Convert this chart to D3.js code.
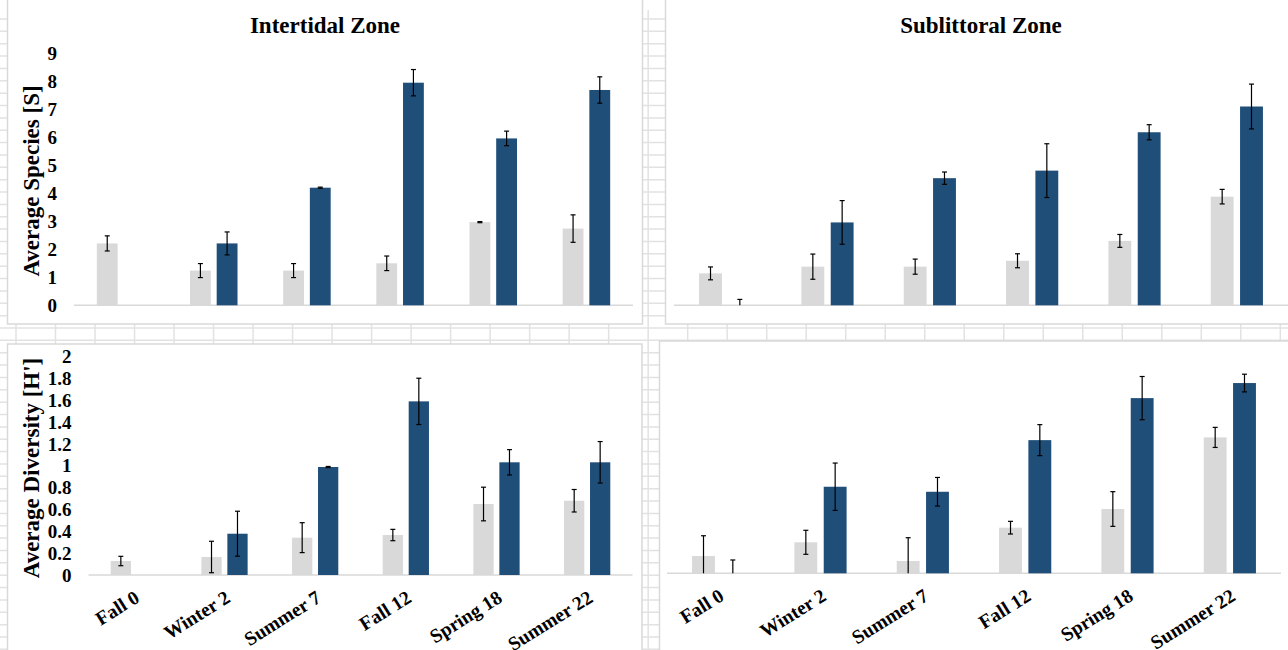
<!DOCTYPE html>
<html>
<head>
<meta charset="utf-8">
<script src="https://cdn.jsdelivr.net/npm/d3@7"></script>
<style>
  html, body { margin: 0; padding: 0; background: #fff; }
  svg { display: block; }
  text { font-family: "Liberation Serif", "Times New Roman", serif; font-weight: bold; fill: #000; }
</style>
</head>
<body>
<div id="chart"></div>
<script>
// categories shared by all four panels
const categories = ["Fall 0", "Winter 2", "Summer 7", "Fall 12", "Spring 18", "Summer 22"];

// Intertidal zone - average species [S]
const interSpeciesLight = [2.21, 1.24, 1.24, 1.5, 2.97, 2.74];
const interSpeciesLightErr = [0.27, 0.25, 0.25, 0.26, 0.02, 0.49];
const interSpeciesDark = [null, 2.21, 4.2, 7.95, 5.96, 7.69];
const interSpeciesDarkErr = [null, 0.41, 0.02, 0.47, 0.26, 0.47];

// Sublittoral zone - average species [S]
const subSpeciesLight = [1.14, 1.38, 1.38, 1.59, 2.3, 3.88];
const subSpeciesLightErr = [0.23, 0.45, 0.27, 0.25, 0.23, 0.26];
const subSpeciesDark = [0, 2.96, 4.54, 4.81, 6.18, 7.1];
const subSpeciesDarkErr = [0.21, 0.78, 0.22, 0.96, 0.27, 0.8];

// Intertidal zone - average diversity [H']
const interDivLight = [0.128, 0.165, 0.342, 0.366, 0.65, 0.68];
const interDivLightErr = [0.043, 0.144, 0.137, 0.052, 0.154, 0.103];
const interDivDark = [null, 0.378, 0.989, 1.59, 1.032, 1.032];
const interDivDarkErr = [null, 0.206, 0.005, 0.212, 0.116, 0.19];

// Sublittoral zone - average diversity [H']
const subDivLight = [0.158, 0.284, 0.113, 0.418, 0.589, 1.245];
const subDivLightErr = [0.186, 0.11, 0.213, 0.058, 0.159, 0.092];
const subDivDark = [0, 0.793, 0.747, 1.22, 1.605, 1.743];
const subDivDarkErr = [0.122, 0.217, 0.131, 0.142, 0.198, 0.081];

// tick labels
const speciesTicks = [0, 1, 2, 3, 4, 5, 6, 7, 8, 9];
const diversityTicks = [0, 0.2, 0.4, 0.6, 0.8, 1, 1.2, 1.4, 1.6, 1.8, 2];

const W = 1288, H = 650;
const LIGHT = "#d9d9d9", DARK = "#1f4e79", GRID = "#e2e2e2";

const svg = d3.select("#chart").append("svg")
  .attr("width", W)
  .attr("height", H);

// spreadsheet cell grid behind the charts
const gridG = svg.append("g");
d3.range(0, 33).forEach((k) => {
  const x = 16 + 39.51 * k;
  gridG.append("line").attr("x1", x).attr("x2", x).attr("y1", 10).attr("y2", H)
    .attr("stroke", GRID).attr("stroke-width", 1.5);
});
d3.range(0, 52).forEach((k) => {
  const y = 19 + 12.36 * k;
  gridG.append("line").attr("x1", 0).attr("x2", W).attr("y1", y).attr("y2", y)
    .attr("stroke", GRID).attr("stroke-width", 1.5);
});

function drawPanel(cfg) {
  // chart area (white box over the grid)
  svg.append("rect")
    .attr("x", cfg.box[0]).attr("y", cfg.box[1])
    .attr("width", cfg.box[2]).attr("height", cfg.box[3])
    .attr("fill", "#fff").attr("stroke", "#d9d9d9").attr("stroke-width", 1.5);

  const g = svg.append("g");

  const x0 = d3.scaleBand()
    .domain(categories)
    .range(cfg.xRange)
    .paddingInner(0.49)
    .paddingOuter(0.245);

  const x1 = d3.scaleBand()
    .domain(["light", "dark"])
    .range([0, x0.bandwidth()])
    .paddingInner(0.22);

  const y = d3.scaleLinear()
    .domain(cfg.yDomain)
    .range(cfg.yRange);

  // axis line
  g.append("line")
    .attr("x1", cfg.xRange[0]).attr("x2", cfg.xRange[1])
    .attr("y1", y(0)).attr("y2", y(0))
    .attr("stroke", "#d9d9d9").attr("stroke-width", 1.5);

  const series = [
    { key: "light", vals: cfg.light, errs: cfg.lightErr, color: LIGHT },
    { key: "dark", vals: cfg.dark, errs: cfg.darkErr, color: DARK }
  ];

  series.forEach((s) => {
    categories.forEach((c, i) => {
      const v = s.vals[i];
      if (v === null) return;
      const bx = x0(c) + x1(s.key);
      const bw = x1.bandwidth();
      if (v > 0) {
        g.append("rect")
          .attr("x", bx).attr("y", y(v))
          .attr("width", bw).attr("height", y(0) - y(v))
          .attr("fill", s.color);
      }
      // error bar, cut at zero like the original
      const e = s.errs[i];
      if (e === null) return;
      const cx = bx + bw / 2;
      const lo = Math.max(0, v - e), hi = v + e;
      g.append("line")
        .attr("x1", cx).attr("x2", cx).attr("y1", y(lo)).attr("y2", y(hi))
        .attr("stroke", "#000").attr("stroke-width", 1.2);
      g.append("line")
        .attr("x1", cx - 2.5).attr("x2", cx + 2.5).attr("y1", y(hi)).attr("y2", y(hi))
        .attr("stroke", "#000").attr("stroke-width", 1.2);
      if (v - e > 0) {
        g.append("line")
          .attr("x1", cx - 2.5).attr("x2", cx + 2.5).attr("y1", y(lo)).attr("y2", y(lo))
          .attr("stroke", "#000").attr("stroke-width", 1.2);
      }
    });
  });

  // y tick labels
  if (cfg.ticks) {
    g.selectAll(".ytick")
      .data(cfg.ticks)
      .enter().append("text")
      .attr("x", cfg.tickX)
      .attr("y", (d) => y(d))
      .attr("dy", "0.35em")
      .attr("text-anchor", "end")
      .attr("font-size", 19)
      .text((d) => String(+d.toFixed(1)));
  }

  // rotated category labels, end tucked under the group
  if (cfg.xLabels) {
    g.selectAll(".xlab")
      .data(categories)
      .enter().append("text")
      .attr("text-anchor", "end")
      .attr("font-size", 19.5)
      .attr("transform", (d) => `translate(${x0(d) + x0.bandwidth() / 2 + 7},${y(0) + 26}) rotate(-32)`)
      .text((d) => d);
  }

  if (cfg.title) {
    g.append("text")
      .attr("x", cfg.title[1]).attr("y", 33)
      .attr("text-anchor", "middle")
      .attr("font-size", 23)
      .text(cfg.title[0]);
  }

  if (cfg.yTitle) {
    g.append("text")
      .attr("text-anchor", "middle")
      .attr("font-size", 23)
      .attr("transform", `translate(39,${cfg.yTitle[1]}) rotate(-90)`)
      .text(cfg.yTitle[0]);
  }
}

// top left
drawPanel({
  box: [7.5, -5, 635, 329],
  xRange: [74, 633],
  yDomain: [0, 9], yRange: [305.3, 53.3],
  light: interSpeciesLight, lightErr: interSpeciesLightErr,
  dark: interSpeciesDark, darkErr: interSpeciesDarkErr,
  ticks: speciesTicks, tickX: 57,
  title: ["Intertidal Zone", 325],
  yTitle: ["Average Species [S]", 181]
});

// top right
drawPanel({
  box: [665.5, -5, 640, 329],
  xRange: [674, 1288],
  yDomain: [0, 9], yRange: [305.3, 53.3],
  light: subSpeciesLight, lightErr: subSpeciesLightErr,
  dark: subSpeciesDark, darkErr: subSpeciesDarkErr,
  title: ["Sublittoral Zone", 981]
});

// bottom left
drawPanel({
  box: [7.5, 344, 634.5, 320],
  xRange: [88.5, 632.5],
  yDomain: [0, 2], yRange: [575, 356.6],
  light: interDivLight, lightErr: interDivLightErr,
  dark: interDivDark, darkErr: interDivDarkErr,
  ticks: diversityTicks, tickX: 71.5,
  xLabels: true,
  yTitle: ["Average Diversity [H']", 468]
});

// bottom right
drawPanel({
  box: [659.5, 341, 640, 320],
  xRange: [667, 1281],
  yDomain: [0, 2], yRange: [573.3, 355],
  light: subDivLight, lightErr: subDivLightErr,
  dark: subDivDark, darkErr: subDivDarkErr,
  xLabels: true
});
</script>
</body>
</html>
